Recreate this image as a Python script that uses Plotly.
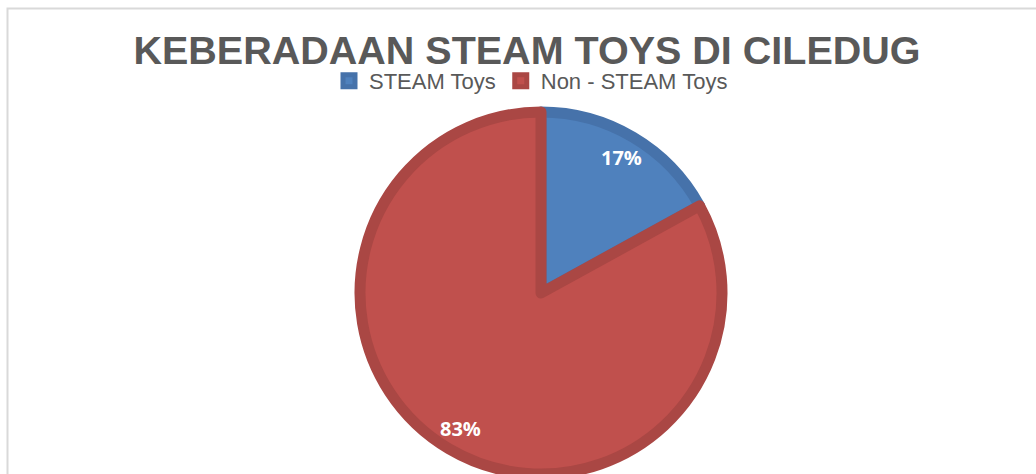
import math
import plotly.graph_objects as go

# ---- data ----
categories = ["STEAM Toys", "Non - STEAM Toys"]
values = [17, 83]
title_text = "KEBERADAAN STEAM TOYS DI CILEDUG"

# ---- style ----
W, H = 1036, 474
fill_colors = ["#4F81BD", "#C0504D"]
line_colors = ["#4672AA", "#AA4744"]
line_w = 11

cx, cy = 541, 293          # pie centre in pixels (from top-left)
r = 181                    # pie radius in pixels

fig = go.Figure()
fig.add_trace(go.Pie(
    labels=categories,
    values=values,
    sort=False,
    direction="clockwise",
    rotation=0,
    textinfo="none",
    marker=dict(colors=fill_colors, line=dict(color=line_colors, width=line_w)),
    domain=dict(x=[(cx - r) / W, (cx + r) / W], y=[(H - cy - r) / H, (H - cy + r) / H]),
    showlegend=True,
))

# percentage labels placed along each slice's mid-angle
total = sum(values)
acc = 0
annotations = []
r_label = 0.845 * (r + line_w / 2)
for v in values:
    mid = (acc + v / 2) / total * 2 * math.pi
    acc += v
    px = cx + r_label * math.sin(mid)
    py = cy - r_label * math.cos(mid)
    annotations.append(dict(
        x=px / W, y=1 - py / H, xref="paper", yref="paper",
        text=f"<b>{v / total * 100:.0f}%</b>", showarrow=False,
        font=dict(family="Open Sans, Noto Sans, sans-serif", size=20, color="white"),
        xanchor="center", yanchor="middle",
    ))

fig.update_layout(
    width=W, height=H, autosize=False,
    margin=dict(l=0, r=0, t=0, b=0),
    paper_bgcolor="white", plot_bgcolor="white",
    title=dict(
        text=title_text,
        x=527 / W, xanchor="center", xref="container",
        y=1 - 50 / H, yanchor="middle", yref="container",
        font=dict(family="Liberation Sans, Arial, sans-serif", size=39.5, color="#595959", weight="bold"),
    ),
    legend=dict(
        orientation="h", x=531 / W, xanchor="center",
        y=1 - 60 / H, yanchor="top",
        font=dict(family="Liberation Sans, Arial, sans-serif", size=22, color="#595959"),
        bgcolor="rgba(0,0,0,0)", traceorder="normal",
        itemclick=False, itemdoubleclick=False,
    ),
    annotations=annotations,
    shapes=[dict(
        type="rect", xref="paper", yref="paper",
        x0=7.5 / W, x1=1.02, y0=-0.02, y1=1 - 8.5 / H,
        line=dict(color="#D9D9D9", width=2), fillcolor="rgba(0,0,0,0)", layer="below",
    )],
)

fig.write_html("out.html")
